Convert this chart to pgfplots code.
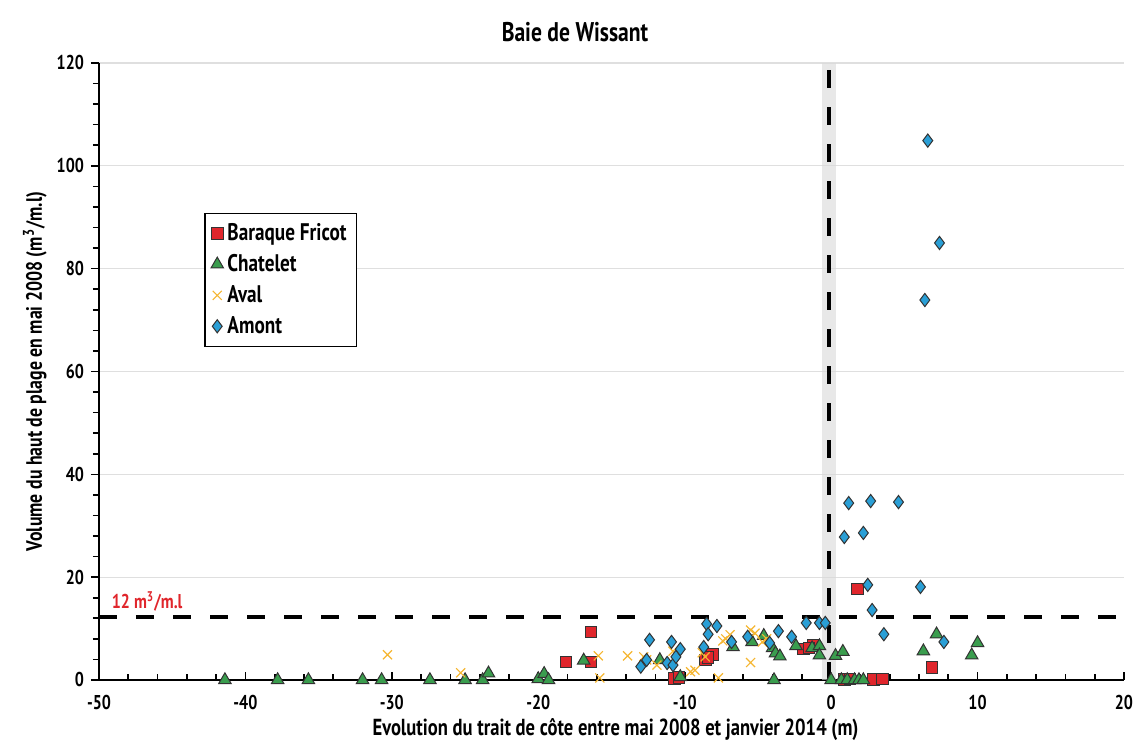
\documentclass[border=0pt]{standalone}
\usepackage{pgfplots}
\pgfplotsset{compat=1.18}
\usepackage{fontspec}
\setmainfont{PT Sans}[FakeStretch=0.8]
\definecolor{bfred}{HTML}{E0262C}
\definecolor{chgreen}{HTML}{3A9D4E}
\definecolor{avyellow}{HTML}{F5B631}
\definecolor{amblue}{HTML}{2A9FD6}
\begin{document}
\begin{tikzpicture}
\path[use as bounding box] (-49.5pt,-33.5pt) rectangle (518.5pt,340pt);
\begin{axis}[
  scale only axis, width=512.5pt, height=308.5pt,
  xmin=-50, xmax=20, ymin=0, ymax=120,
  axis x line=bottom, axis y line=left,
  axis line style={-, line width=1pt, black},
  xtick={-50,-40,...,20}, ytick={0,20,...,120},
  minor x tick num=4, minor y tick num=4,
  xtick align=inside, ytick align=outside,
  major tick length=4pt, minor tick length=3pt,
  tick style={black, line width=0.8pt},
  ymajorgrids, grid style={gray!25, line width=0.6pt},
  /pgf/number format/assume math mode=true,
  tick label style={font=\fontsize{10}{12}\selectfont\bfseries},
  xticklabel style={yshift=-4pt},
  xlabel={Evolution du trait de côte entre mai 2008 et janvier 2014 (m)},
  ylabel={Volume du haut de plage en mai 2008 (m\textsuperscript{3}/m.l)},
  xlabel style={font=\fontsize{11.6}{13}\selectfont\bfseries, at={(axis description cs:0.504,-0.081)}, anchor=center},
  ylabel style={font=\fontsize{11.1}{13}\selectfont\bfseries, at={(axis description cs:-0.0625,0.5)}, anchor=center},
  legend style={at={(axis cs:-42.8,90.9)}, anchor=north west, draw=black, line width=0.6pt,
    font=\fontsize{12}{14}\selectfont\bfseries, row sep=1.5pt, inner sep=3pt,
    legend cell align=left},
  clip=false,
]
\addplot[only marks, mark=square*, mark size=2.9pt, mark options={fill=bfred, draw=black!80, line width=0.5pt}] coordinates {
(-18.1,3.5) (-16.4,9.3) (-16.4,3.5) (-10.7,0.3) (-10.4,0.5) (-8.6,3.9) (-8.1,4.9) (-8.4,4.4)
(-1.9,6.0) (-1.2,6.8) (-1.5,6.2) (1.8,17.7) (0.9,0.1) (1.3,0.2) (2.9,0.1) (3.5,0.2) (6.9,2.4)
};
\addlegendentry{Baraque Fricot}
\addplot[only marks, mark=triangle*, mark size=3.6pt, mark options={fill=chgreen, draw=black!80, line width=0.5pt}] coordinates {
(-41.4,0) (-37.8,0) (-35.7,0) (-32.0,0) (-30.7,0) (-27.4,0) (-25.0,0) (-23.8,0) (-23.4,1.3)
(-20.0,0.2) (-19.6,1.2) (-19.3,0) (-16.9,3.8) (-11.7,3.9) (-10.3,0.6) (-6.7,6.4) (-5.4,7.4)
(-4.6,8.6) (-4.0,6.2) (-3.8,5.2) (-3.5,4.6) (-3.9,0) (-2.4,6.6) (-1.3,6.2) (-0.8,6.6) (-0.8,4.8)
(0,0) (0.3,4.7) (0.8,5.5) (0.7,0) (1.1,0) (1.6,0) (1.9,0) (2.2,0) (6.3,5.6) (7.2,8.9) (9.6,4.8) (10.0,7.2)
};
\addlegendentry{Chatelet}
\addplot[only marks, mark=x, mark size=3.2pt, mark options={draw=avyellow, line width=0.6pt}] coordinates {
(-30.3,4.9) (-25.3,1.4) (-15.9,4.7) (-15.8,0.4) (-13.9,4.7) (-12.8,4.5) (-12.6,3.9) (-11.9,2.9)
(-10.8,5.6) (-9.6,1.6) (-9.3,1.9) (-8.8,5.3) (-8.6,4.5) (-7.7,0.4) (-7.2,8.0) (-6.9,8.8) (-7.4,7.6)
(-5.5,9.7) (-5.2,9.1) (-4.7,7.4) (-5.5,3.4) (-4.4,8.0)
};
\addlegendentry{Aval}
\addplot[only marks, mark=diamond*, mark size=3.3pt, mark options={fill=amblue, draw=black!80, line width=0.5pt}] coordinates {
(-13.0,2.6) (-12.6,3.9) (-12.4,7.8) (-11.2,3.3) (-10.8,2.9) (-10.9,7.4) (-10.6,4.5) (-10.3,6.0)
(-8.7,6.4) (-8.5,10.9) (-7.8,10.5) (-8.4,8.9) (-6.8,7.4) (-5.7,8.4) (-4.2,7.2) (-3.6,9.5)
(-2.7,8.4) (-1.7,11.1) (-0.8,11.1) (-0.4,11.1) (0.9,27.8) (1.2,34.4) (2.2,28.6) (2.7,34.8)
(4.6,34.6) (2.5,18.5) (6.1,18.1) (2.8,13.6) (3.6,8.9) (7.7,7.4) (6.6,104.9) (7.4,85.0) (6.4,73.9)
};
\addlegendentry{Amont}
\fill[gray!30, opacity=0.6] (axis cs:-0.6,0) rectangle (axis cs:0.3,120);
\draw[black, line width=1.8pt, dash pattern=on 9pt off 9.5pt] (axis cs:-0.15,0) -- (axis cs:-0.15,120);
\draw[black, line width=1.8pt, dash pattern=on 9pt off 9.5pt] (axis cs:-50,12.2) -- (axis cs:20,12.2);
\node[anchor=west, text=bfred, font=\fontsize{10}{12}\selectfont\bfseries] at (axis cs:-49.6,15.2) {12 m\textsuperscript{3}/m.l};
\end{axis}
\node[font=\fontsize{13.5}{16}\selectfont\bfseries] at (238pt,324pt) {Baie de Wissant};
\end{tikzpicture}
\end{document}
